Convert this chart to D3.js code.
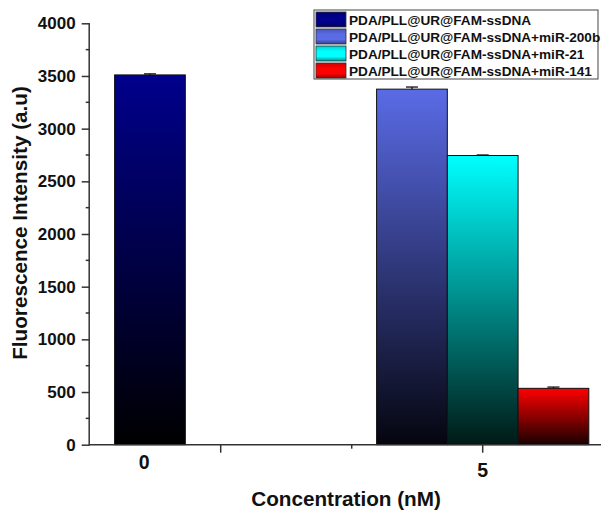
<!DOCTYPE html>
<html>
<head>
<meta charset="utf-8">
<script src="https://cdn.jsdelivr.net/npm/d3@7"></script>
<style>
  html, body { margin: 0; padding: 0; background: #fff; }
  svg { display: block; font-family: Arial, "Liberation Sans", sans-serif; }
</style>
</head>
<body>
<svg id="chart" width="601" height="517"></svg>
<script>
// ---- data ----
const categories = ["0", "5"];
const seriesNames = [
  "PDA/PLL@UR@FAM-ssDNA",
  "PDA/PLL@UR@FAM-ssDNA+miR-200b",
  "PDA/PLL@UR@FAM-ssDNA+miR-21",
  "PDA/PLL@UR@FAM-ssDNA+miR-141"
];
// category each series bar belongs to
const seriesCategory = ["0", "5", "5", "5"];
const seriesValues = [3510, 3375, 2745, 535];
const seriesErrors = [10, 20, 5, 12];
const seriesColors = ["#00008c", "#5a6be6", "#00ffff", "#ff0000"];
const seriesBottoms = ["#000000", "#05050f", "#001a16", "#1a0000"];
const yTicks = [0, 500, 1000, 1500, 2000, 2500, 3000, 3500, 4000];
const yTitle = "Fluorescence Intensity (a.u)";
const xTitle = "Concentration (nM)";

// ---- layout ----
const svg = d3.select("#chart");
const axisX0 = 89.7, axisY0 = 444.7, axisTop = 23.3;
const y = d3.scaleLinear().domain([0, 4000]).range([axisY0, axisTop]);
const x = d3.scaleLinear().domain([0, 3.9]).range([axisX0, 600.6]);
const catCenter = { "0": 0.46, "5": 3.0 };
const catLabelPos = { "0": 0.415, "5": 3.0 };
const catLabelY = { "0": 468.5, "5": 477 };
const barW = 0.54;

// gradients
const defs = svg.append("defs");
seriesNames.forEach((s, i) => {
  const g = defs.append("linearGradient").attr("id", "bg" + i)
    .attr("x1", 0).attr("y1", 0).attr("x2", 0).attr("y2", 1);
  g.append("stop").attr("offset", "0%").attr("stop-color", seriesColors[i]);
  g.append("stop").attr("offset", "100%").attr("stop-color", seriesBottoms[i]);
  const lg = defs.append("linearGradient").attr("id", "lg" + i)
    .attr("x1", 0).attr("y1", 0).attr("x2", 0).attr("y2", 1);
  lg.append("stop").attr("offset", "0%").attr("stop-color", d3.color(seriesColors[i]).darker(0.6));
  lg.append("stop").attr("offset", "35%").attr("stop-color", seriesColors[i]);
  lg.append("stop").attr("offset", "70%").attr("stop-color", seriesColors[i]);
  lg.append("stop").attr("offset", "100%").attr("stop-color", d3.color(seriesColors[i]).darker(1.5));
});

// bar positions: within each category, bars are laid side by side
const bars = seriesValues.map((v, i) => {
  const cat = seriesCategory[i];
  const members = seriesCategory.map((c, j) => c === cat ? j : -1).filter(j => j >= 0);
  const k = members.indexOf(i);
  const start = catCenter[cat] - members.length * barW / 2 + k * barW;
  return { i, v, e: seriesErrors[i], x0: start, x1: start + barW };
});

const gBars = svg.append("g");
gBars.selectAll("rect").data(bars).join("rect")
  .attr("x", d => x(d.x0))
  .attr("y", d => y(d.v))
  .attr("width", d => x(d.x1) - x(d.x0))
  .attr("height", d => y(0) - y(d.v))
  .attr("fill", d => `url(#bg${d.i})`)
  .attr("stroke", "#111")
  .attr("stroke-width", 1);

// error bars
const gErr = svg.append("g").attr("stroke", "#111").attr("stroke-width", 1.3);
bars.forEach(d => {
  const cx = x((d.x0 + d.x1) / 2);
  gErr.append("line").attr("x1", cx).attr("x2", cx).attr("y1", y(d.v + d.e)).attr("y2", y(d.v));
  gErr.append("line").attr("x1", cx - 6).attr("x2", cx + 6).attr("y1", y(d.v + d.e)).attr("y2", y(d.v + d.e));
});

// y axis
const axisColor = "#333";
const yAxis = d3.axisLeft(y).tickValues(yTicks).tickFormat(d3.format("d")).tickSize(8).tickPadding(6);
const gy = svg.append("g").attr("transform", `translate(${axisX0},0)`).call(yAxis);
gy.select(".domain").attr("stroke", axisColor).attr("stroke-width", 1.5).attr("d", `M-0.5,${axisTop}V${axisY0}`);
gy.selectAll(".tick line").attr("stroke", axisColor).attr("stroke-width", 1.5);
gy.selectAll(".tick text").attr("font-size", 17).attr("font-weight", "bold").attr("fill", "#111");
// minor y ticks
const minor = yTicks.slice(0, -1).map(t => t + 250);
gy.selectAll(".minor").data(minor).join("line").attr("class", "minor")
  .attr("x1", -4).attr("x2", 0).attr("y1", d => y(d)).attr("y2", d => y(d))
  .attr("stroke", axisColor).attr("stroke-width", 1.5);

// x axis line
svg.append("line").attr("x1", axisX0 - 1).attr("x2", 601).attr("y1", axisY0).attr("y2", axisY0)
  .attr("stroke", axisColor).attr("stroke-width", 1.5);
// x ticks
const xTickVals = [1, 2, 3];
svg.selectAll(".xtick").data(xTickVals).join("line").attr("class", "xtick")
  .attr("x1", d => x(d)).attr("x2", d => x(d))
  .attr("y1", axisY0).attr("y2", d => axisY0 + (d === 2 ? 4 : 8))
  .attr("stroke", axisColor).attr("stroke-width", 1.5);
// category labels
svg.selectAll(".xlab").data(categories).join("text").attr("class", "xlab")
  .attr("x", d => x(catLabelPos[d])).attr("y", d => catLabelY[d])
  .attr("text-anchor", "middle").attr("font-size", 19.5).attr("font-weight", "bold").attr("fill", "#111")
  .text(d => d);

// titles
svg.append("text").attr("transform", "translate(27,223) rotate(-90)")
  .attr("text-anchor", "middle").attr("font-size", 20.7).attr("font-weight", "bold").attr("fill", "#111")
  .text(yTitle);
svg.append("text").attr("x", 346).attr("y", 506)
  .attr("text-anchor", "middle").attr("font-size", 20.7).attr("font-weight", "bold").attr("fill", "#111")
  .text(xTitle);

// legend
const lg = svg.append("g");
lg.append("rect").attr("x", 314).attr("y", 10).attr("width", 284).attr("height", 69)
  .attr("fill", "#fff").attr("stroke", "#444").attr("stroke-width", 1);
seriesNames.forEach((s, i) => {
  const yy = 12 + i * 17;
  lg.append("rect").attr("x", 316).attr("y", yy).attr("width", 30).attr("height", 15)
    .attr("fill", `url(#lg${i})`).attr("stroke", "#333").attr("stroke-width", 0.8);
  lg.append("text").attr("x", 349).attr("y", yy + 12.8)
    .attr("font-size", 13.6).attr("font-weight", "bold").attr("fill", "#111")
    .text(s);
});
</script>
</body>
</html>
